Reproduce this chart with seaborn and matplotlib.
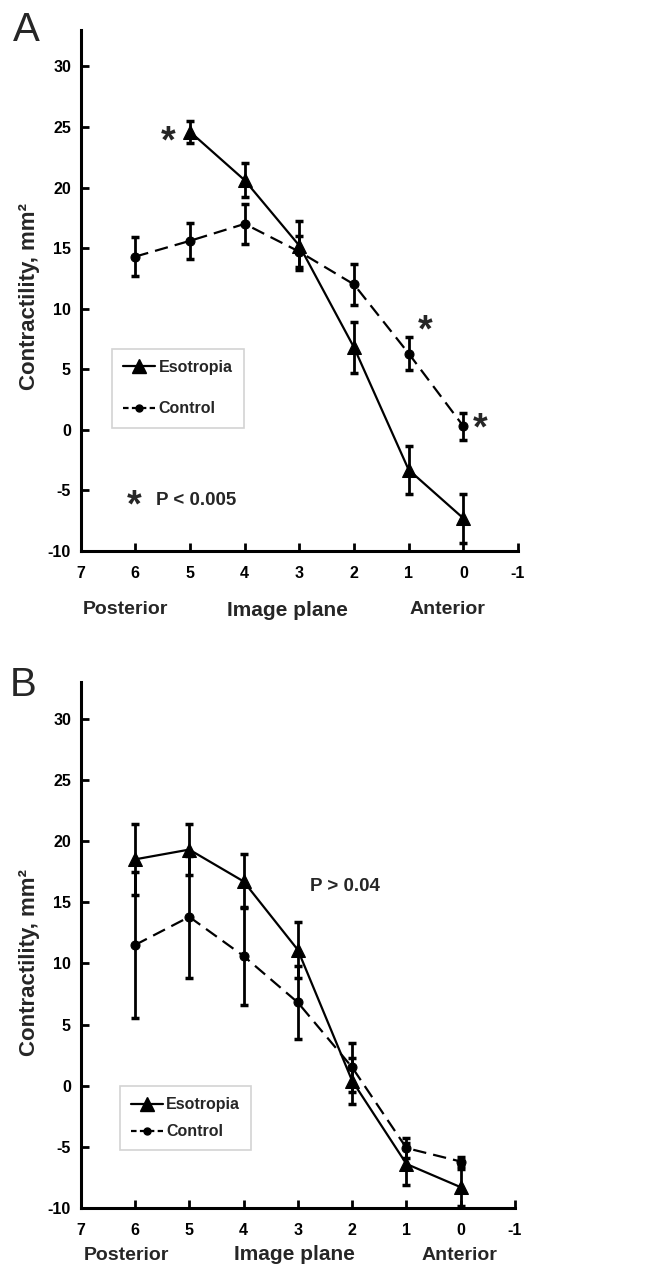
import numpy as np
import pandas as pd
import matplotlib
matplotlib.use("Agg")
import matplotlib.pyplot as plt
from matplotlib.lines import Line2D
import seaborn as sns

# ---------------- data ----------------
planes = [6, 5, 4, 3, 2, 1, 0]

# Panel A
a_eso_x = [5, 4, 3, 2, 1, 0]
a_eso_y = [24.6, 20.6, 15.2, 6.8, -3.3, -7.3]
a_eso_err = [0.9, 1.4, 2.0, 2.1, 2.0, 2.0]
a_ctl_x = [6, 5, 4, 3, 2, 1, 0]
a_ctl_y = [14.3, 15.6, 17.0, 14.7, 12.0, 6.3, 0.3]
a_ctl_err = [1.6, 1.5, 1.65, 1.3, 1.7, 1.4, 1.1]

# Panel B
b_eso_x = [6, 5, 4, 3, 2, 1, 0]
b_eso_y = [18.5, 19.3, 16.7, 11.1, 0.4, -6.4, -8.3]
b_eso_err = [2.9, 2.1, 2.2, 2.3, 1.9, 1.7, 1.5]
b_ctl_x = [6, 5, 4, 3, 2, 1, 0]
b_ctl_y = [11.5, 13.8, 10.6, 6.8, 1.5, -5.1, -6.2]
b_ctl_err = [6.0, 5.0, 4.0, 3.0, 2.0, 0.8, 0.4]

x_ticks = [7, 6, 5, 4, 3, 2, 1, 0, -1]
y_ticks = [-10, -5, 0, 5, 10, 15, 20, 25, 30]
series_names = ["Esotropia", "Control"]

# ---------------- style ----------------
sns.set_theme(style="ticks")
plt.rcParams["font.family"] = ["Liberation Sans", "DejaVu Sans"]
plt.rcParams["font.weight"] = "bold"
plt.rcParams["axes.unicode_minus"] = False

fig = plt.figure(figsize=(6.48, 12.71), dpi=100)
W, H = 648, 1271


def px_axes(left, top, right, bottom):
    return fig.add_axes([left / W, 1 - bottom / H, (right - left) / W, (bottom - top) / H])


def build_df(ex, ey, cx, cy):
    return pd.DataFrame({
        "plane": list(ex) + list(cx),
        "value": list(ey) + list(cy),
        "group": [series_names[0]] * len(ex) + [series_names[1]] * len(cx),
    })


def draw_panel(ax, ex, ey, ee, cx, cy, ce):
    df = build_df(ex, ey, cx, cy)
    sns.lineplot(data=df, x="plane", y="value", style="group",
                 markers={"Esotropia": "^", "Control": "o"},
                 dashes={"Esotropia": "", "Control": (6, 3.2)},
                 color="black", linewidth=1.6, ax=ax, legend=False,
                 markeredgecolor="black", estimator=None, sort=False)
    for ln in ax.lines:
        if ln.get_marker() == "^":
            ln.set_markersize(10.5)
        elif ln.get_marker() == "o":
            ln.set_markersize(6.5)
    ax.errorbar(cx, cy, yerr=ce, fmt="none", ecolor="black", elinewidth=2.0,
                capsize=2.8, capthick=2.5, zorder=3)
    ax.errorbar(ex, ey, yerr=ee, fmt="none", ecolor="black", elinewidth=2.0,
                capsize=2.8, capthick=2.5, zorder=3)
    ax.set_xlim(7, -1)
    ax.set_ylim(-10, 33)
    ax.set_xticks(x_ticks)
    ax.set_xticklabels([str(t) for t in x_ticks])
    ax.set_yticks(y_ticks)
    ax.set_yticklabels([str(t) for t in y_ticks])
    ax.set_xlabel("")
    ax.set_ylabel("")
    for s in ["top", "right"]:
        ax.spines[s].set_visible(False)
    for s in ["left", "bottom"]:
        ax.spines[s].set_linewidth(2.2)
        ax.spines[s].set_color("black")
    ax.tick_params(axis="both", direction="in", length=6, width=2.0, colors="black",
                   labelsize=11.5)
    ax.tick_params(axis="x", pad=11)
    ax.tick_params(axis="y", pad=7)
    for lab in ax.get_xticklabels() + ax.get_yticklabels():
        lab.set_fontweight("bold")
    ax.set_facecolor("white")


def add_legend(ax, anchor, spacing):
    h1 = Line2D([0], [0], color="black", lw=1.6, marker="^", markersize=10)
    h2 = Line2D([0], [0], color="black", lw=1.6, ls=(0, (2.5, 1.5)), marker="o", markersize=5)
    leg = ax.legend([h1, h2], series_names, loc="upper left", bbox_to_anchor=anchor,
                    borderaxespad=0, frameon=True, fancybox=False, handlelength=2.0,
                    handletextpad=0.2, labelspacing=spacing, borderpad=0.7,
                    prop={"weight": "bold", "size": 11.5})
    leg.get_frame().set_edgecolor("#c8c8c8")
    leg.get_frame().set_linewidth(1.2)
    return leg


# ---------------- Panel A ----------------
axA = px_axes(80.7, 30, 518, 551)
draw_panel(axA, a_eso_x, a_eso_y, a_eso_err, a_ctl_x, a_ctl_y, a_ctl_err)
add_legend(axA, (0.072, 0.388), 1.65)
star_kw = dict(fontsize=27, ha="center", va="center", fontweight="bold")
axA.text(5.4, 23.7, "*", **star_kw)
axA.text(0.7, 8.1, "*", **star_kw)
axA.text(-0.31, 0.0, "*", **star_kw)
axA.text(6.02, -6.3, "*", **star_kw)
axA.text(5.62, -5.8, "P < 0.005", fontsize=13.5, ha="left", va="center", fontweight="bold")

# ---------------- Panel B ----------------
axB = px_axes(80.7, 682, 515, 1208)
draw_panel(axB, b_eso_x, b_eso_y, b_eso_err, b_ctl_x, b_ctl_y, b_ctl_err)
add_legend(axB, (0.09, 0.232), 0.75)
axB.text(2.78, 16.25, "P > 0.04", fontsize=13.5, ha="left", va="center", fontweight="bold")

# ---------------- figure-level labels ----------------
fig.text(13 / W, 1 - 30 / H, "A", fontsize=29, fontweight="normal", ha="left", va="center")
fig.text(10 / W, 1 - 685 / H, "B", fontsize=29, fontweight="normal", ha="left", va="center")

for yc in [297, 962]:
    fig.text(30 / W, 1 - yc / H, "Contractility, mm\u00b2", rotation=90, fontsize=16,
             fontweight="bold", ha="center", va="center")

for ypx, pos in [(610, (125, 287, 447)), (1255, (126, 294, 459))]:
    fig.text(pos[0] / W, 1 - ypx / H, "Posterior", fontsize=14, fontweight="bold",
             ha="center", va="center")
    fig.text(pos[1] / W, 1 - ypx / H, "Image plane", fontsize=15, fontweight="bold",
             ha="center", va="center")
    fig.text(pos[2] / W, 1 - ypx / H, "Anterior", fontsize=14, fontweight="bold",
             ha="center", va="center")

fig.savefig("out.png", dpi=100, facecolor="white")
